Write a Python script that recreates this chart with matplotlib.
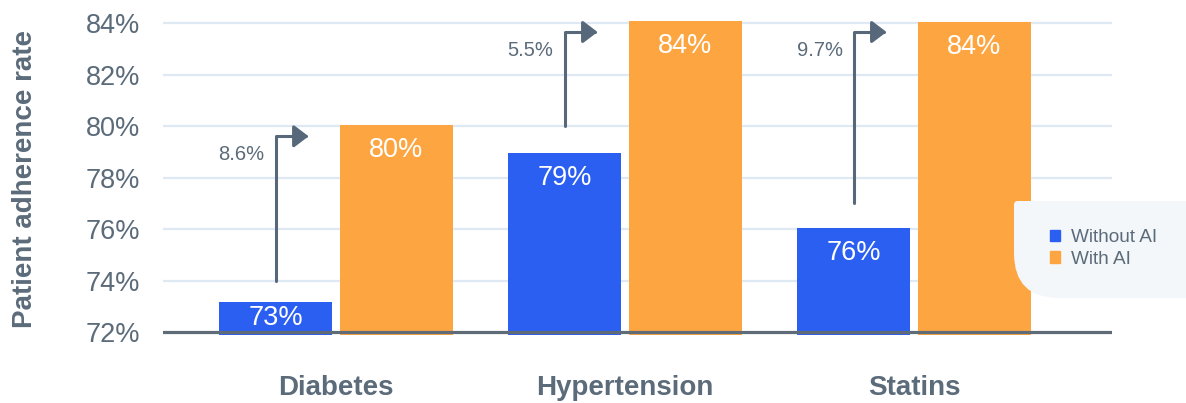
import numpy as np
import matplotlib
matplotlib.use("Agg")
import matplotlib.pyplot as plt
from matplotlib.path import Path
from matplotlib.patches import PathPatch, Patch

plt.rcParams['font.family'] = ['Liberation Sans', 'DejaVu Sans']

# data
categories = ["Diabetes", "Hypertension", "Statins"]
without_ai = [73.17, 78.95, 76.04]
with_ai = [80.04, 84.08, 84.04]
without_labels = ["73%", "79%", "76%"]
with_labels = ["80%", "84%", "84%"]
uplift_labels = ["8.6%", "5.5%", "9.7%"]
arrow_from = [74.0, 80.0, 77.0]
arrow_to = [79.6, 83.65, 83.65]
yticks = [72, 74, 76, 78, 80, 82, 84]
series_names = ["Without AI", "With AI"]

BLUE = "#2b5ff2"
ORANGE = "#fda641"
GREY = "#5b6b7a"
GRID = "#dfe9f4"

W, H = 1186, 403
fig = plt.figure(figsize=(W / 100, H / 100), dpi=100)
ax = fig.add_axes([163 / W, (H - 335.1) / H, (1112 - 163) / W, (335.1 - 17.85) / H])

ymin, ymax = 71.88, 84.2
x = np.arange(len(categories))
bw = 0.391
off = 0.209

ax.set_ylim(ymin, ymax)
ax.set_xlim(-0.599, 2.685)

for y in yticks[1:]:
    ax.axhline(y, color=GRID, lw=1.6, zorder=0)
ax.axhline(72, color="#5f6b77", lw=2.3, zorder=3)

b1 = ax.bar(x - off, np.array(without_ai) - ymin, bw, bottom=ymin, color=BLUE, zorder=2)
b2 = ax.bar(x + off, np.array(with_ai) - ymin, bw, bottom=ymin, color=ORANGE, zorder=2)

# value labels inside bars
px = (ymax - ymin) / 317.25  # data units per pixel
for xs, vals, labs in [(x - off, without_ai, without_labels), (x + off, with_ai, with_labels)]:
    for xi, v, lab in zip(xs, vals, labs):
        ly = max(v - 25 * px, (v + ymin) / 2)
        ax.text(xi, ly, lab, ha="center", va="center", color="white", fontsize=19.5, zorder=4)

# uplift arrows
for i in range(len(categories)):
    x0 = x[i] - off
    ax.annotate("", xy=(x0 + 0.114, arrow_to[i]), xytext=(x0, arrow_from[i]),
                arrowprops=dict(arrowstyle="-|>,head_length=0.45,head_width=0.34",
                                connectionstyle="angle,angleA=90,angleB=0,rad=0",
                                color="#56687a", lw=2.2, shrinkA=0, shrinkB=0,
                                mutation_scale=20),
                zorder=4)
    ax.annotate(uplift_labels[i], xy=(x0, arrow_to[i]), xytext=(-8, -13),
                textcoords="offset points", ha="right", va="center",
                fontsize=14.5, color=GREY)

ax.set_yticks(yticks)
ax.set_yticklabels([f"{t}%" for t in yticks])
ax.set_xticks(x)
ax.set_xticklabels(categories, fontsize=20, fontweight="bold", color=GREY)
ax.tick_params(axis="y", length=0, pad=16.5, labelsize=19.5, labelcolor=GREY)
ax.tick_params(axis="x", length=0, pad=29)
for s in ax.spines.values():
    s.set_visible(False)

fig.text(25 / W, 1 - 179 / H, "Patient adherence rate", rotation=90, ha="center",
         va="center", fontsize=20, fontweight="bold", color=GREY)


# legend background with uneven rounded corners (figure pixels)
def rounded_box(x0, y0, x1, y1, r_tl, r_tr, r_br, r_bl):
    verts = [(x0 + r_tl, y1), (x1 - r_tr, y1), (x1, y1), (x1, y1 - r_tr),
             (x1, y0 + r_br), (x1, y0), (x1 - r_br, y0),
             (x0 + r_bl, y0), (x0, y0), (x0, y0 + r_bl),
             (x0, y1 - r_tl), (x0, y1), (x0 + r_tl, y1), (x0 + r_tl, y1)]
    codes = [Path.MOVETO, Path.LINETO, Path.CURVE3, Path.CURVE3,
             Path.LINETO, Path.CURVE3, Path.CURVE3,
             Path.LINETO, Path.CURVE3, Path.CURVE3,
             Path.LINETO, Path.CURVE3, Path.CURVE3, Path.CLOSEPOLY]
    return Path(verts, codes)


box = rounded_box(1014, H - 298, 1230, H - 201, 4, 42, 42, 45)
fig.patches.append(PathPatch(box, transform=None, facecolor="#f4f7fa",
                             edgecolor="none", zorder=5))

handles = [Patch(color=BLUE), Patch(color=ORANGE)]
leg = fig.legend(handles, series_names, loc="center left",
                 bbox_to_anchor=(1040 / W, 1 - 248.5 / H), frameon=False,
                 fontsize=13.7, labelcolor=GREY, handlelength=0.55, handleheight=0.55,
                 handletextpad=0.6, labelspacing=0.25, borderpad=0)
leg.set_zorder(6)

fig.savefig("out.png", dpi=100)
